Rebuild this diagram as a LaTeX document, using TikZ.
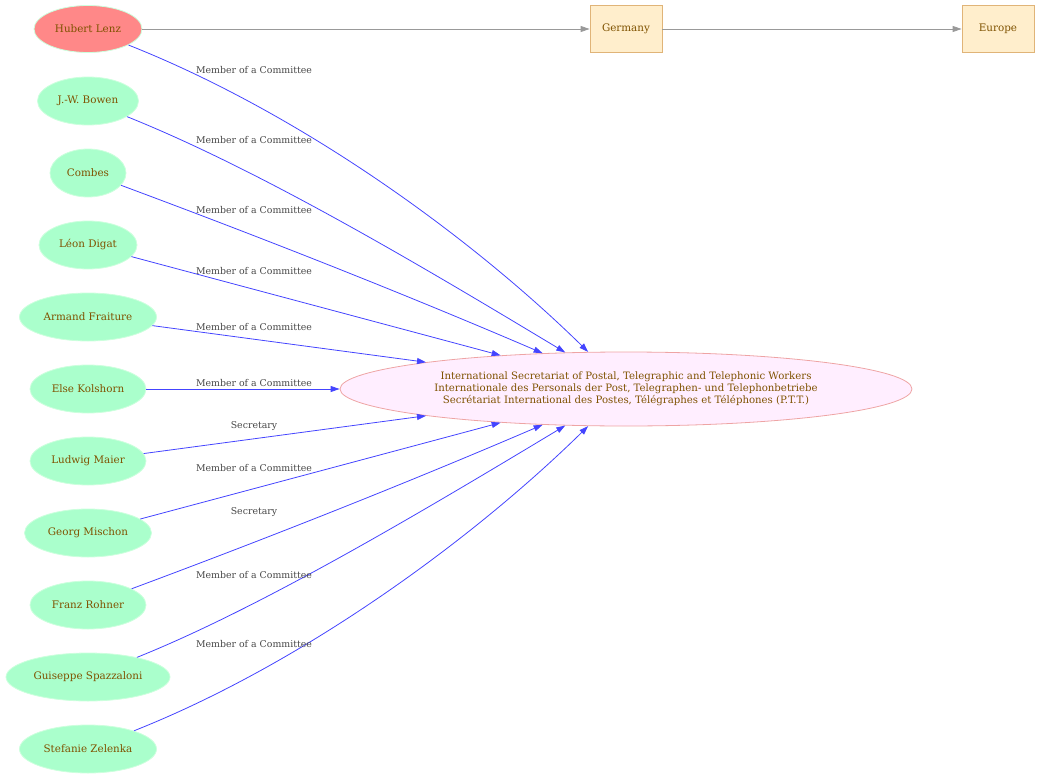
\documentclass[tikz,border=0pt]{standalone}
\usepackage{fontspec}
\setmainfont{DejaVu Serif}
\usepackage[HTML]{xcolor}
\usepackage{tikz}
\usetikzlibrary{positioning, arrows, arrows.meta, shapes.geometric}

\definecolor{txtbrown}{HTML}{7F5200}
\definecolor{mint}{HTML}{AAFFCC}
\definecolor{mintline}{HTML}{CCFFDD}
\definecolor{salmon}{HTML}{FF8888}
\definecolor{lilac}{HTML}{FFEEFF}
\definecolor{lilacline}{HTML}{EEA4A4}
\definecolor{cream}{HTML}{FFEECC}
\definecolor{creamline}{HTML}{E0B478}
\definecolor{edgeblue}{HTML}{4444FF}
\definecolor{edgegray}{HTML}{999999}

\tikzset{
  person/.style={ellipse, draw=mintline, fill=mint, text=txtbrown, line width=0.8bp,
    minimum height=48bp, inner sep=0pt, font=\fontsize{10.4}{12}\selectfont},
  org/.style={ellipse, draw=lilacline, fill=lilac, text=txtbrown, line width=0.8bp,
    minimum width=572bp, minimum height=74bp, inner sep=0pt, align=center,
    font=\fontsize{10.2}{12}\selectfont},
  place/.style={rectangle, draw=creamline, fill=cream, text=txtbrown, line width=0.8bp,
    minimum width=72bp, minimum height=47bp, inner sep=0pt, font=\fontsize{10.4}{12}\selectfont},
  lbl/.style={text=black!72, inner sep=0pt, font=\fontsize{9.4}{11}\selectfont},
  edge/.style={draw=edgeblue, line width=0.8bp, -{Triangle[length=9bp,width=6bp]}},
  link/.style={draw=edgegray, line width=0.8bp, -{Triangle[length=9bp,width=6bp]}}
}

\begin{document}
\begin{tikzpicture}[x=1bp, y=-1bp]
\useasboundingbox (0,0) rectangle (1039,779);

\node[person, fill=salmon, draw=mintline, minimum width=108bp, minimum height=47bp] (P1) at (88,29) {Hubert Lenz};
\node[person, minimum width=101bp] (P2) at (88,101) {J.-W. Bowen};
\node[person, minimum width=76bp] (P3) at (88,173) {Combes};
\node[person, minimum width=98bp] (P4) at (88,245) {Léon Digat};
\node[person, minimum width=137bp] (P5) at (88,317) {Armand Fraiture};
\node[person, minimum width=116bp] (P6) at (88,389) {Else Kolshorn};
\node[person, minimum width=116bp] (P7) at (88,461) {Ludwig Maier};
\node[person, minimum width=127bp] (P8) at (88,533) {Georg Mischon};
\node[person, minimum width=116bp] (P9) at (88,605) {Franz Rohner};
\node[person, minimum width=164bp] (P10) at (88,677) {Guiseppe Spazzaloni};
\node[person, minimum width=137bp] (P11) at (88,749) {Stefanie Zelenka};

\node[org] (S) at (626,389) {International Secretariat of Postal, Telegraphic and Telephonic Workers\\
Internationale des Personals der Post, Telegraphen- und Telephonbetriebe\\
Secrétariat International des Postes, Télégraphes et Téléphones (P.T.T.)};

\node[place] (G) at (626,29) {Germany};
\node[place] (E) at (998,29) {Europe};

\draw[link] (P1) -- (G);
\draw[link] (G) -- (E);

\draw[edge] (P1) .. controls (300,113) and (470,236) .. (S);
\draw[edge] (P2) .. controls (260,170) and (420,265) .. (S);
\draw[edge] (P3) .. controls (260,237) and (400,292) .. (S);
\draw[edge] (P4) .. controls (260,291) and (380,323) .. (S);
\draw[edge] (P5) -- (S);
\draw[edge] (P6) -- (S);
\draw[edge] (P7) -- (S);
\draw[edge] (P8) .. controls (260,487) and (380,455) .. (S);
\draw[edge] (P9) .. controls (260,541) and (400,486) .. (S);
\draw[edge] (P10) .. controls (260,608) and (420,513) .. (S);
\draw[edge] (P11) .. controls (300,665) and (470,542) .. (S);

\node[lbl] (L1) at (254,70) {Member of a Committee};
\node[lbl] (L2) at (254,140) {Member of a Committee};
\node[lbl] (L3) at (254,210) {Member of a Committee};
\node[lbl] (L4) at (254,271) {Member of a Committee};
\node[lbl] (L5) at (254,327) {Member of a Committee};
\node[lbl] (L6) at (254,383) {Member of a Committee};
\node[lbl] (L7) at (254,426) {Secretary};
\node[lbl] (L8) at (254,468) {Member of a Committee};
\node[lbl] (L9) at (254,512) {Secretary};
\node[lbl] (L10) at (254,575) {Member of a Committee};
\node[lbl] (L11) at (254,644) {Member of a Committee};
\end{tikzpicture}
\end{document}
